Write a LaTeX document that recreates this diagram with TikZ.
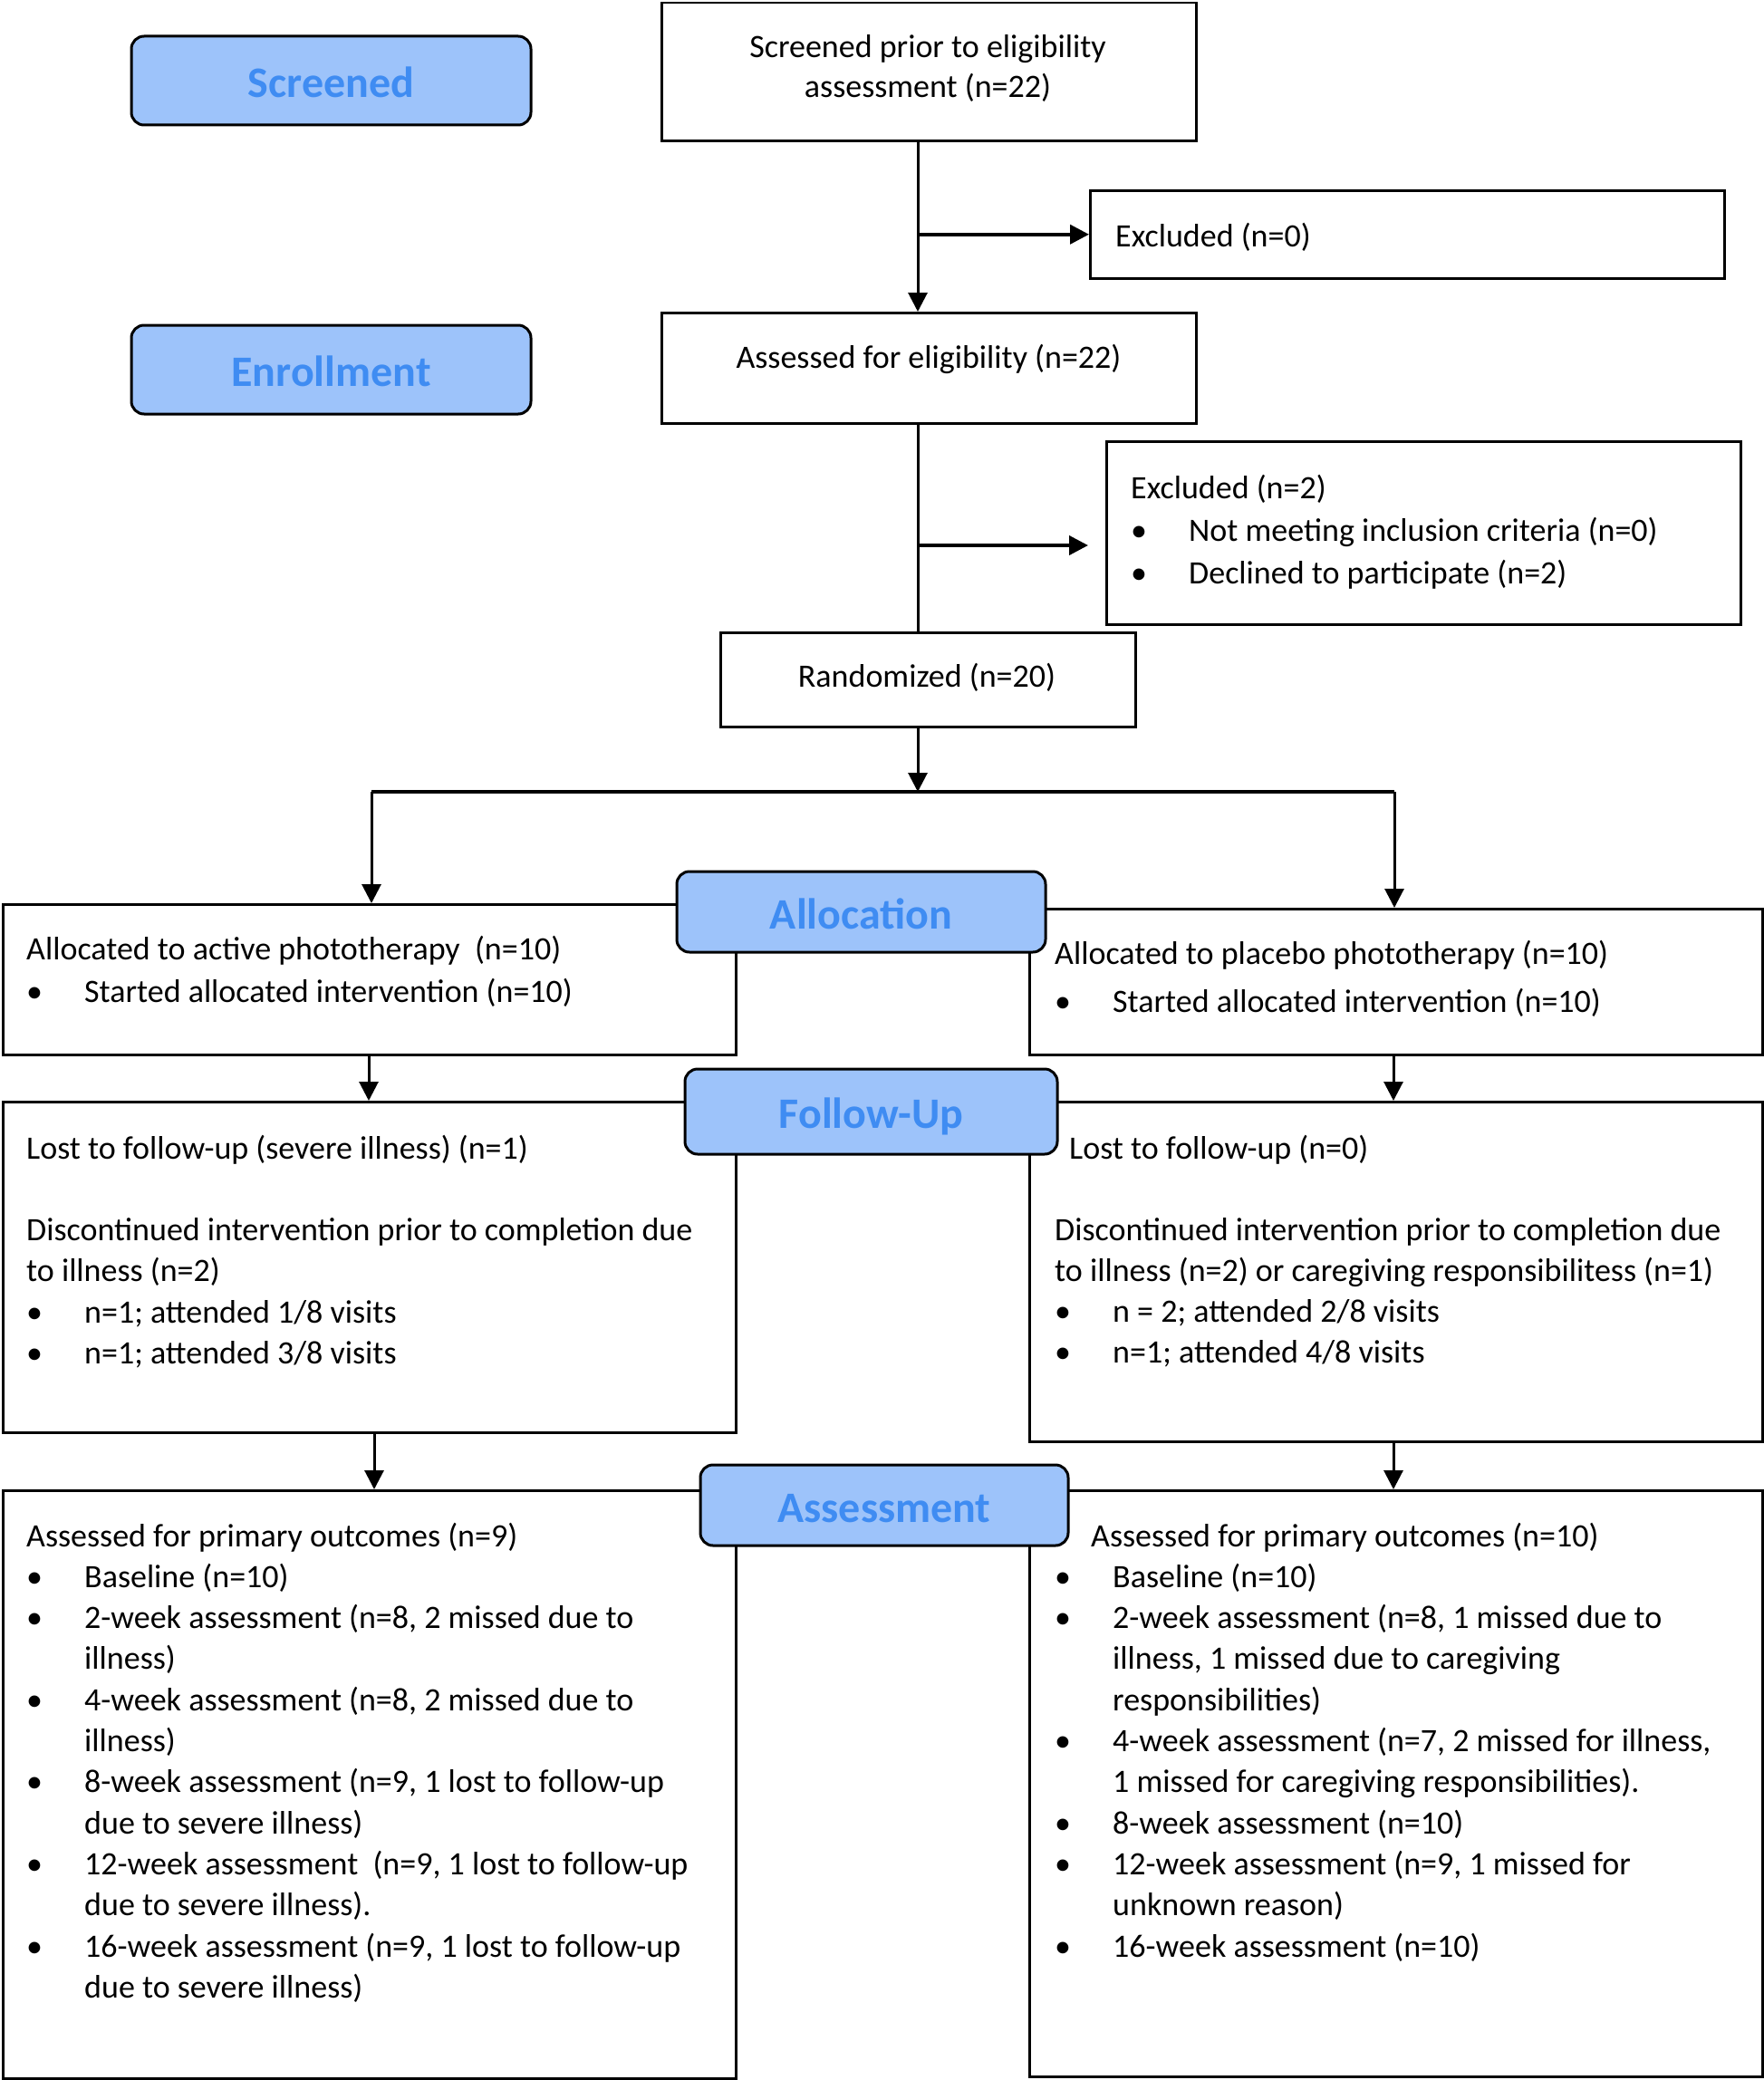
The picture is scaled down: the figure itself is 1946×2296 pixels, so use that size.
\documentclass[tikz,border=0pt]{standalone}
\usepackage{fontspec}
\setmainfont{Carlito}
\usetikzlibrary{arrows.meta}
\definecolor{lblfill}{HTML}{9DC3FA}
\definecolor{lbltext}{HTML}{3F8CF2}
\tikzset{
  box/.style={draw, line width=2.5pt, rectangle, inner sep=0pt, anchor=north west},
  lbl/.style={draw, line width=3pt, rounded corners=14pt, fill=lblfill, text=lbltext,
    font=\fontsize{48}{56}\selectfont\bfseries, inner sep=0pt, text height=43pt, text depth=6pt},
  txt/.style={anchor=base west, inner sep=0pt},
  ctxt/.style={anchor=base, inner sep=0pt, font=\fontsize{36}{44}\selectfont},
  ln/.style={line width=3pt},
  thk/.style={line width=4pt},
  arr/.style={line width=3pt, -{Triangle[length=21pt,width=21pt]}},
  tarr/.style={line width=4pt, -{Triangle[length=21pt,width=21pt]}},
}
\newcommand\tb[2][45.3]{\parbox[t]{1000pt}{\raggedright\fontsize{36}{#1}\selectfont #2}}
\newcommand\bi[1]{\makebox[64pt][l]{\textbullet}#1}
\newcommand\ci[1]{\hspace*{64pt}#1}
\begin{document}
\begin{tikzpicture}[x=1pt,y=-1pt]
\useasboundingbox (0,0) rectangle (1946,2296);
% boxes
\node[box, minimum width=590pt, minimum height=152pt] (scr) at (729,2) {};
\node[box, minimum width=700pt, minimum height=97pt] (ex0) at (1202,209) {};
\node[box, minimum width=590pt, minimum height=122pt] (el) at (729,344) {};
\node[box, minimum width=700pt, minimum height=202pt] (ex2) at (1220,486) {};
\node[box, minimum width=458pt, minimum height=104pt] (rand) at (794,697) {};
\node[box, minimum width=809pt, minimum height=166pt] (al) at (2,997) {};
\node[box, minimum width=809pt, minimum height=161pt] (ar) at (1135,1002) {};
\node[box, minimum width=809pt, minimum height=365pt] (fl) at (2,1215) {};
\node[box, minimum width=809pt, minimum height=375pt] (fr) at (1135,1215) {};
\node[box, minimum width=809pt, minimum height=649pt] (sl) at (2,1644) {};
\node[box, minimum width=809pt, minimum height=647pt] (sr) at (1135,1644) {};
% labels
\node[lbl, minimum width=441pt, minimum height=98pt] (lscr) at (365.5,89) {Screened};
\node[lbl, minimum width=441pt, minimum height=98pt] (lenr) at (365.5,408) {Enrollment};
\node[lbl, minimum width=407pt, minimum height=89pt] (lall) at (950.5,1006.5) {Allocation};
\node[lbl, minimum width=411pt, minimum height=94pt] (lfol) at (961.5,1227) {Follow-Up};
\node[lbl, minimum width=406pt, minimum height=89pt] (lass) at (976,1661.5) {Assessment};
% texts
\node[ctxt] (t1a) at (1024,64) {Screened prior to eligibility};
\node[ctxt] (t1b) at (1024,108) {assessment (n=22)};
\node[txt] (t2) at (1231,272) {\tb{Excluded (n=0)}};
\node[ctxt] (t3) at (1025,406) {Assessed for eligibility (n=22)};
\node[txt] (t4) at (1248,550) {\tb[47]{Excluded (n=2)\\
  \bi{Not meeting inclusion criteria (n=0)}\\
  \bi{Declined to participate (n=2)}}};
\node[ctxt] (t5) at (1023,758) {Randomized (n=20)};
\node[txt] (t6) at (29,1059) {\tb[47]{Allocated to active phototherapy\ \ (n=10)\\
  \bi{Started allocated intervention (n=10)}}};
\node[txt] (t7) at (1164,1064) {\tb[53]{Allocated to placebo phototherapy (n=10)\\
  \bi{Started allocated intervention (n=10)}}};
\node[txt] (t8) at (29,1279) {\tb{Lost to follow-up (severe illness) (n=1)\\[45.3pt]
  Discontinued intervention prior to completion due\\
  to illness (n=2)\\
  \bi{n=1; attended 1/8 visits}\\
  \bi{n=1; attended 3/8 visits}}};
\node[txt] (t9) at (1180,1279) {\tb{Lost to follow-up (n=0)}};
\node[txt] (t10) at (1164,1369) {\tb{Discontinued intervention prior to completion due\\
  to illness (n=2) or caregiving responsibilitess (n=1)\\
  \bi{n = 2; attended 2/8 visits}\\
  \bi{n=1; attended 4/8 visits}}};
\node[txt] (t11) at (29,1707) {\tb{Assessed for primary outcomes (n=9)\\
  \bi{Baseline (n=10)}\\
  \bi{2-week assessment (n=8, 2 missed due to}\\
  \ci{illness)}\\
  \bi{4-week assessment (n=8, 2 missed due to}\\
  \ci{illness)}\\
  \bi{8-week assessment (n=9, 1 lost to follow-up}\\
  \ci{due to severe illness)}\\
  \bi{12-week assessment\ \ (n=9, 1 lost to follow-up}\\
  \ci{due to severe illness).}\\
  \bi{16-week assessment (n=9, 1 lost to follow-up}\\
  \ci{due to severe illness)}}};
\node[txt] (t12) at (1204,1707) {\tb{Assessed for primary outcomes (n=10)}};
\node[txt] (t13) at (1164,1752.3) {\tb{\bi{Baseline (n=10)}\\
  \bi{2-week assessment (n=8, 1 missed due to}\\
  \ci{illness, 1 missed due to caregiving}\\
  \ci{responsibilities)}\\
  \bi{4-week assessment (n=7, 2 missed for illness,}\\
  \ci{1 missed for caregiving responsibilities).}\\
  \bi{8-week assessment (n=10)}\\
  \bi{12-week assessment (n=9, 1 missed for}\\
  \ci{unknown reason)}\\
  \bi{16-week assessment (n=10)}}};
% connectors
\coordinate (vx) at (1013,0);
\coordinate (y602) at (0,602);
\coordinate (ysplit) at (0,874);
\coordinate (lx) at (410,874);
\coordinate (rx) at (1539,874);
\coordinate (l2) at (407,0);
\coordinate (r2) at (1538,0);
\coordinate (l3) at (413,0);
\draw[arr] (scr.south -| vx) -- (el.north -| vx);
\draw[tarr] (vx |- ex0.west) -- (ex0.west);
\draw[ln] (el.south -| vx) -- (rand.north -| vx);
\draw[tarr, shorten >=19pt] (vx |- y602) -- (ex2.west |- y602);
\draw[arr] (rand.south -| vx) -- (vx |- ysplit);
\draw[thk] (lx) -- (rx);
\draw[arr] (lx) -- (al.north -| lx);
\draw[arr] (rx) -- (ar.north -| rx);
\draw[arr] (al.south -| l2) -- (fl.north -| l2);
\draw[arr] (ar.south -| r2) -- (fr.north -| r2);
\draw[arr] (fl.south -| l3) -- (sl.north -| l3);
\draw[arr] (fr.south -| r2) -- (sr.north -| r2);
\end{tikzpicture}
\end{document}
